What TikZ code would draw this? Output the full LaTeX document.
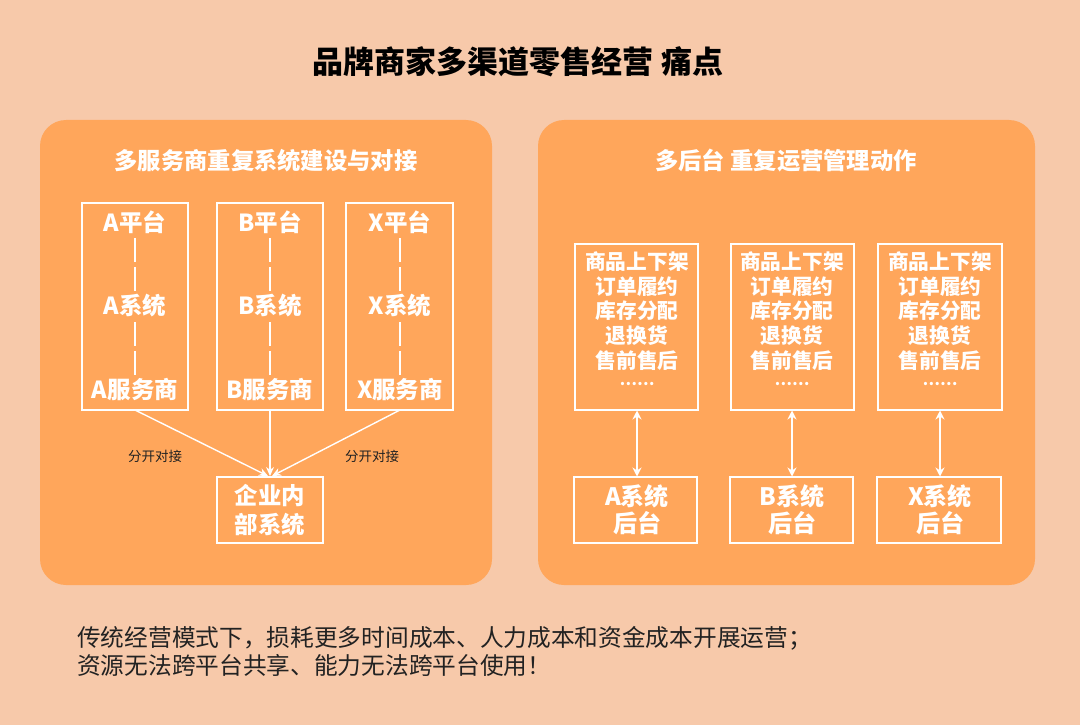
\documentclass[tikz,border=0pt]{standalone}
\usepackage{fontspec}
\setmainfont{Noto Sans CJK SC}
\newfontfamily\cjk{Noto Sans CJK SC}
\usetikzlibrary{arrows.meta}
\definecolor{bgpeach}{HTML}{F7C9AA}
\definecolor{panelorange}{HTML}{FFA65B}
\definecolor{darktext}{HTML}{222222}
\tikzset{
  panel/.style={fill=panelorange, draw=none, rounded corners=26pt},
  wbox/.style={draw=white, line width=1.2pt},
  wtext/.style={text=white, font=\cjk\bfseries\fontsize{23.5}{27}\selectfont, inner sep=0pt},
  rtext/.style={text=white, font=\cjk\bfseries\fontsize{20.7}{24.7}\selectfont, inner sep=0pt, align=center},
  subtitle/.style={text=white, font=\cjk\bfseries\fontsize{23.3}{27}\selectfont, inner sep=0pt},
  dashline/.style={draw=white, line width=1.2pt, dash pattern=on 24pt off 5pt},
  flow/.style={draw=white, line width=1.4pt, -{Stealth[length=9pt,width=8pt]}},
  dflow/.style={draw=white, line width=2pt, {Stealth[length=9pt,width=9pt]}-{Stealth[length=9pt,width=9pt]}},
  smalllabel/.style={text=darktext, font=\cjk\fontsize{13.5}{16}\selectfont, inner sep=0pt},
}
\begin{document}
\begin{tikzpicture}[x=1pt,y=-1pt]
\useasboundingbox (0,0) rectangle (1080,725);
\fill[bgpeach] (0,0) rectangle (1080,725);

% title
\node[font=\cjk\bfseries\fontsize{31}{36}\selectfont, text=black, inner sep=0pt] (title) at (518,62) {品牌商家多渠道零售经营 痛点};

% panels
\fill[panel] (40,120) rectangle (492,585);
\fill[panel] (538,120) rectangle (1035,585);

\node[subtitle] (lsub) at (266,161) {多服务商重复系统建设与对接};
\node[subtitle] (rsub) at (786,161) {多后台 重复运营管理动作};

% left boxes
\foreach \n/\l/\x/\xa/\xb in {a/A/135/82/188, b/B/270/217/323, x/X/400/346/453}{
  \draw[wbox] (\xa,203) rectangle (\xb,410);
  \coordinate (\n-bot) at (\x,410);
  \node[wtext] (\n-plat) at (\x,222) {\l 平台};
  \node[wtext] (\n-sys) at (\x,306) {\l 系统};
  \node[wtext] (\n-srv) at (\x,390) {\l 服务商};
  \coordinate (\n-d1) at (\x,238);
  \coordinate (\n-d2) at (\x,291);
  \coordinate (\n-d3) at (\x,322);
  \coordinate (\n-d4) at (\x,376);
  \draw[dashline] (\n-d1) -- (\n-d2);
  \draw[dashline] (\n-d3) -- (\n-d4);
}

% enterprise box
\draw[wbox] (217,477) rectangle (323,543);
\node[wtext, align=center, font=\cjk\bfseries\fontsize{23.4}{29}\selectfont] (ent) at (270,510) {企业内\\部系统};
\coordinate (entin) at (270,476);
\coordinate (entinl) at (268,476);
\coordinate (entinr) at (272,476);
\draw[flow] (a-bot) -- (entinl);
\draw[flow] (b-bot) -- (entin);
\draw[flow] (x-bot) -- (entinr);

\node[smalllabel] (lab1) at (155,456) {分开对接};
\node[smalllabel] (lab2) at (372,456) {分开对接};

% right boxes
\foreach \n/\l/\x/\xa/\xb in {ra/A/637/575/698, rb/B/792/731/854, rx/X/940/878/1002}{
  \draw[wbox] (\xa,244) rectangle (\xb,410);
  \node[rtext] (\n-ops) at (\x,311) {商品上下架\\订单履约\\库存分配\\退换货\\售前售后};
  \node[text=white, font=\cjk\bfseries\fontsize{15.5}{18}\selectfont, inner sep=0pt] (\n-dots) at (\x,384) {……};
  \draw[wbox] (\xa-1,477) rectangle (\xb-1,543);
  \node[rtext, font=\cjk\bfseries\fontsize{24}{27}\selectfont] (\n-back) at (\x,510) {\l 系统\\后台};
  \coordinate (\n-t) at (\x,410.5);
  \coordinate (\n-b) at (\x,476.5);
  \draw[dflow] (\n-t) -- (\n-b);
}

% bottom text
\node[anchor=west, text=darktext, font=\cjk\fontsize{23.7}{28}\selectfont, inner sep=0pt, align=left] (note) at (77,651) {传统经营模式下，损耗更多时间成本、人力成本和资金成本开展运营；\\资源无法跨平台共享、能力无法跨平台使用！};
\end{tikzpicture}
\end{document}
